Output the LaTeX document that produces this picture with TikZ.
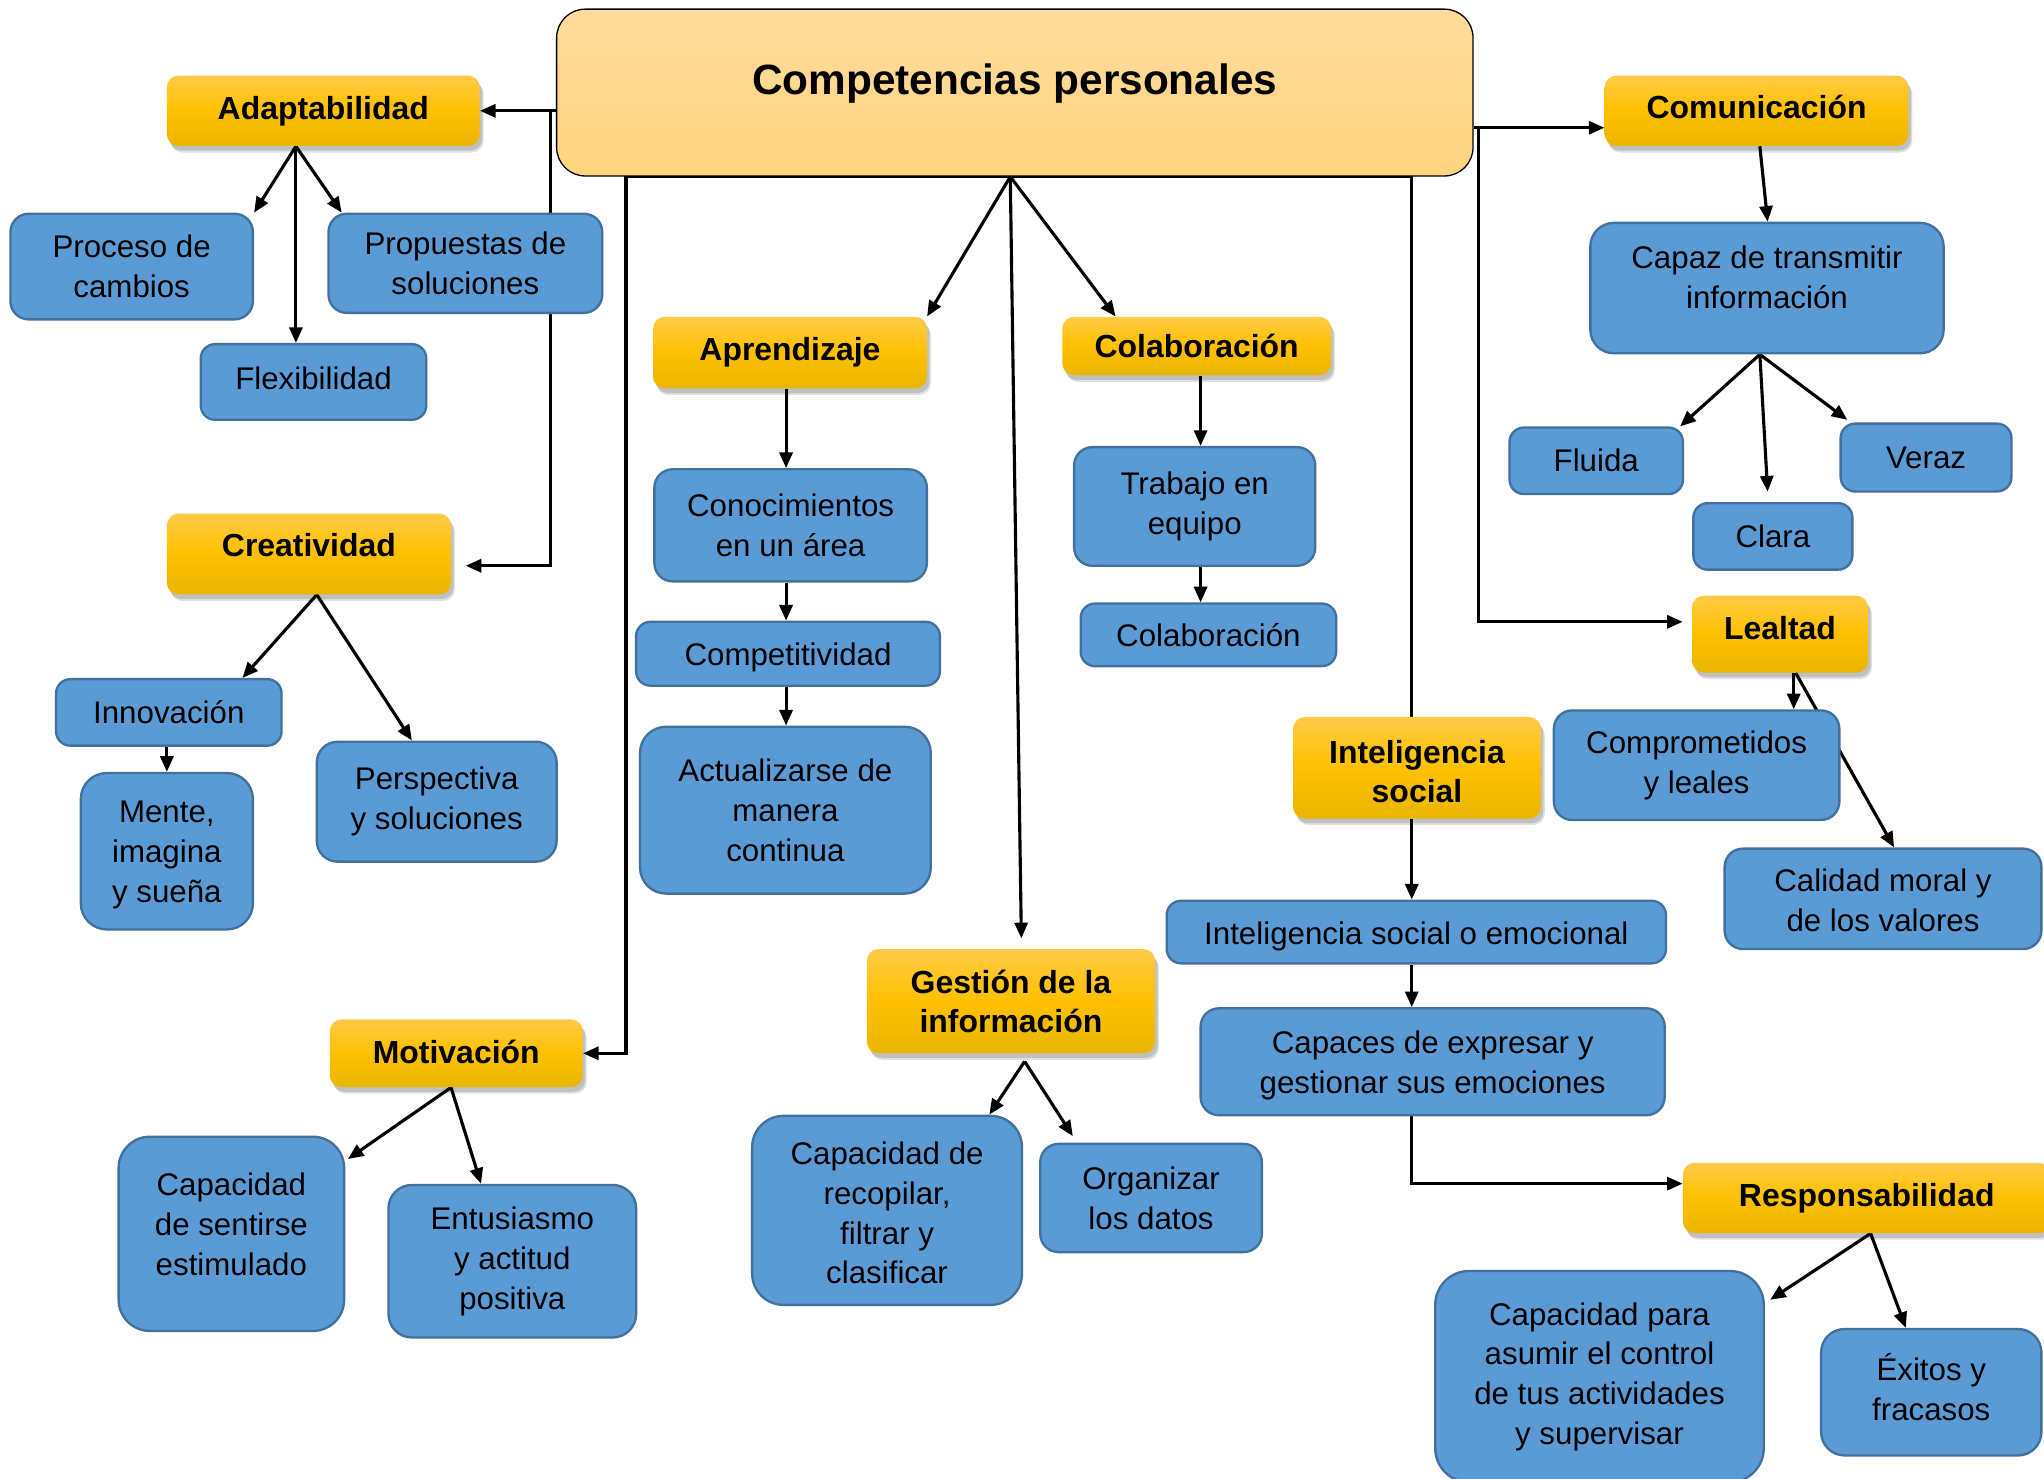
\documentclass[tikz,border=0pt]{standalone}
\usepackage{fontspec}
\setmainfont{Liberation Sans}
\usetikzlibrary{arrows.meta,shadows,calc,backgrounds}
\definecolor{bluefill}{HTML}{5B9BD5}
\definecolor{bluedraw}{HTML}{41719C}
\definecolor{goldtop}{HTML}{FFCB47}
\definecolor{goldmid}{HTML}{FFC000}
\definecolor{goldbot}{HTML}{E9B600}
\definecolor{maintop}{HTML}{FFDC9C}
\definecolor{mainbot}{HTML}{FFD47F}
\newcommand{\bodyfnt}{\fontsize{24}{30.5}\selectfont}
\newcommand{\titlefnt}{\bfseries\fontsize{24.5}{30}\selectfont}
\newcommand{\mainfnt}{\bfseries\fontsize{32.5}{38}\selectfont}
\begin{document}
\begin{tikzpicture}[x=1pt,y=-1pt,
  sz/.style 2 args={minimum width=#1pt,minimum height=#2pt},
  bluebox/.style={draw=bluedraw,fill=bluefill,line width=1.8pt,rounded corners=#1,
    align=center,font=\bodyfnt,inner sep=0pt,text=black},
  bluebox/.default=11pt,
  goldbox/.style={top color=goldtop,bottom color=goldbot,middle color=goldmid,
    rounded corners=9pt,
    drop shadow={shadow xshift=3pt,shadow yshift=-5pt,opacity=0.12,fill=black},
    drop shadow={shadow xshift=2pt,shadow yshift=-3.5pt,opacity=0.14,fill=black},
    align=center,font=\titlefnt,inner sep=0pt,text=black},
  mainbox/.style={top color=maintop,bottom color=mainbot,draw=black,line width=1pt,
    rounded corners=22pt,inner sep=0pt},
  lb/.style={font=\bodyfnt,align=center,text=black},
  lg/.style={font=\titlefnt,align=center,text=black},
  arr/.style={line width=2.4pt,-{Triangle[length=12pt,width=10pt]}},
  ln/.style={line width=2.4pt}
]
\useasboundingbox (0,0) rectangle (1568,1134);
\clip (0,0) rectangle (1568,1134);

% main
\node[mainbox,sz={703}{128},
  label={[font=\mainfnt,yshift=7pt]center:Competencias personales}] (main) at (778.5,71) {};

% gold nodes
\node[goldbox,sz={240}{54}] (adap) at (248,85) {\raisebox{2pt}{Adaptabilidad}};
\node[goldbox,sz={218}{62},label={[lg,yshift=7pt]center:Creatividad}] (creat) at (237,425) {};
\node[goldbox,sz={210}{55}] (aprend) at (606,270.5) {\raisebox{1.5pt}{Aprendizaje}};
\node[goldbox,sz={206}{45}] (colab) at (918,265.5) {Colaboración};
\node[goldbox,sz={233}{54},label={[lg,yshift=3pt]center:Comunicación}] (comun) at (1347.5,85) {};
\node[goldbox,sz={135}{59},label={[lg,yshift=5pt]center:Lealtad}] (leal) at (1365.5,486.5) {};
\node[goldbox,sz={190}{78},label={[lg,yshift=-3pt]center:{Inteligencia\\social}}] (intel) at (1087,589) {};
\node[goldbox,sz={221}{80}] (gest) at (775.5,768) {Gestión de la\\información};
\node[goldbox,sz={194}{52}] (motiv) at (350,808) {\raisebox{2pt}{Motivación}};
\node[goldbox,sz={282}{54}] (resp) at (1432,919) {\raisebox{2pt}{Responsabilidad}};

% blue nodes
\node[bluebox=14pt,sz={186}{81}] (proc) at (101,204.5) {Proceso de\\cambios};
\node[bluebox=14pt,sz={210}{76}] (prop) at (357,202) {Propuestas de\\soluciones};
\node[bluebox,sz={173}{58},label={[lb,yshift=3pt]center:Flexibilidad}] (flex) at (240.5,293) {};
\node[bluebox,sz={173}{51}] (innov) at (129.5,546.5) {Innovación};
\node[bluebox=20pt,sz={132}{120},label={[lb,yshift=-3pt]center:{Mente,\\imagina\\y sueña}}] (mente) at (128,653) {};
\node[bluebox=16pt,sz={184}{92}] (persp) at (335,615) {Perspectiva\\y soluciones};
\node[bluebox=14pt,sz={209}{86}] (conoc) at (606.5,403) {Conocimientos\\en un área};
\node[bluebox,sz={233}{49},label={[lb,yshift=-3pt]center:Competitividad}] (compet) at (604.5,501.5) {};
\node[bluebox=20pt,sz={223}{128}] (actual) at (602.5,621.5) {Actualizarse de\\manera\\continua};
\node[bluebox=14pt,sz={185}{91}] (trabajo) at (916.5,388.5) {Trabajo en\\equipo};
\node[bluebox,sz={196}{48}] (colabb) at (927,487) {Colaboración};
\node[bluebox=18pt,sz={271}{100},
  label={[lb,yshift=8pt]center:{Capaz de transmitir\\información}}] (capaz) at (1355.5,221) {};
\node[bluebox,sz={133}{51}] (fluida) at (1224.5,353.5) {Fluida};
\node[bluebox,sz={131}{52}] (veraz) at (1477.5,351) {Veraz};
\node[bluebox,sz={122}{51}] (clara) at (1360,411.5) {Clara};
\node[bluebox=14pt,sz={219}{84}] (compr) at (1301.5,587) {Comprometidos\\y leales};
\node[bluebox=14pt,sz={243}{77},label={[lb,yshift=-1pt]center:{Calidad moral y\\de los valores}}] (calidad) at (1444.5,689.5) {};
\node[bluebox,sz={383}{48},label={[lb,yshift=-3pt]center:Inteligencia social o emocional}] (intelso) at (1086.5,715) {};
\node[bluebox=14pt,sz={356}{82},label={[lb,yshift=-3pt]center:{Capaces de expresar y\\gestionar sus emociones}}] (capaces) at (1099,814.5) {};
\node[bluebox=24pt,sz={207}{145},label={[lb,yshift=-2pt]center:{Capacidad de\\recopilar,\\filtrar y\\clasificar}}] (recop) at (680.5,928.5) {};
\node[bluebox=14pt,sz={170}{83}] (organ) at (883,919) {Organizar\\los datos};
\node[bluebox=24pt,sz={173}{149},
  label={[lb,yshift=7.5pt]center:{Capacidad\\de sentirse\\estimulado}}] (sentirse) at (177.5,946.5) {};
\node[bluebox=18pt,sz={190}{117}] (entus) at (393,967.5) {Entusiasmo\\y actitud\\positiva};
\node[bluebox=26pt,sz={252}{162}] (asumir) at (1227,1056) {Capacidad para\\asumir el control\\de tus actividades\\y supervisar};
\node[bluebox=18pt,sz={169}{97},label={[lb,yshift=4pt]center:{Éxitos y\\fracasos}}] (exitos) at (1481.5,1068) {};

% helper coordinates
\coordinate (mc) at ([xshift=-3.5pt]main.south);
\coordinate (ix) at ([xshift=-4pt]intel.south);
\coordinate (ax) at ([xshift=-3pt]aprend.south);
\coordinate (cx) at ([xshift=3pt]colab.south);

\begin{scope}[on background layer]
% main connectors
\draw[arr] (main.west |- adap.east) -- (adap.east);
\draw[arr] ([xshift=-4pt]main.west |- adap.east) |- ([xshift=11pt,yshift=-9pt]creat.east);
\draw[arr] (mc) -| ([xshift=33pt]motiv.east) -- (motiv.east);
\draw[arr] (mc) -- (aprend.north east);
\draw[arr] (mc) -- ([xshift=41pt]colab.north west);
\draw[arr] (mc) -- ([xshift=8pt,yshift=8pt]gest.north);
\draw[ln] (mc) -| ([xshift=-4pt]intel.north);
\draw[arr] ([yshift=-27pt]main.east) -- ([yshift=-27pt]main.east -| comun.west);
\draw[arr] ([xshift=4pt,yshift=-27pt]main.east) |- ([xshift=-7pt,yshift=9.5pt]leal.west);

% adaptabilidad
\draw[arr] ([xshift=-21pt]adap.south) -- (proc.north east);
\draw[arr] ([xshift=-21pt]adap.south) -- ([xshift=-13.5pt]flex.north);
\draw[arr] ([xshift=-21pt]adap.south) -- ([xshift=11pt]prop.north west);

% creatividad
\draw[arr] ([xshift=6pt]creat.south) -- ([xshift=56.5pt]innov.north);
\draw[arr] ([xshift=6pt]creat.south) -- ([xshift=-19pt]persp.north);
\draw[arr] ([xshift=-1.5pt]innov.south) -- ([xshift=-1.5pt]innov.south |- mente.north);

% aprendizaje
\draw[arr] (ax) -- (ax |- conoc.north);
\draw[arr] (conoc.south -| ax) -- (compet.north -| ax);
\draw[arr] (compet.south -| ax) -- (actual.north -| ax);

% colaboracion
\draw[arr] (cx) -- (cx |- trabajo.north);
\draw[arr] (trabajo.south -| cx) -- (colabb.north -| cx);

% comunicacion
\draw[arr] ([xshift=2.5pt]comun.south) -- ([xshift=0.5pt]capaz.north);
\draw[arr] ([xshift=-5.5pt]capaz.south) -- ([xshift=-3pt]fluida.north east);
\draw[arr] ([xshift=-5.5pt]capaz.south) -- ([xshift=-4pt,yshift=8pt]clara.north);
\draw[arr] ([xshift=-5.5pt]capaz.south) -- ([xshift=6pt,yshift=2pt]veraz.north west);

% lealtad
\draw[arr] ([xshift=10.5pt]leal.south) -- ([xshift=10.5pt]leal.south |- compr.north);
\draw[arr] ([xshift=12pt]leal.south) -- ([xshift=8.5pt]calidad.north);

% inteligencia social
\draw[arr] (ix) -- (ix |- intelso.north);
\draw[arr] (intelso.south -| ix) -- (capaces.north -| ix);
\draw[arr] (capaces.south -| ix) |- ([yshift=11pt]resp.west);

% gestion
\draw[arr] ([xshift=10.5pt,yshift=-6pt]gest.south) -- ([xshift=-26pt]recop.north east);
\draw[arr] ([xshift=10.5pt,yshift=-6pt]gest.south) -- ([xshift=-60pt,yshift=5pt]organ.north);

% motivacion
\draw[arr] ([xshift=-4pt]motiv.south) -- ([xshift=2pt,yshift=-18pt]sentirse.north east);
\draw[arr] ([xshift=-4pt]motiv.south) -- ([xshift=-24pt]entus.north);

% responsabilidad
\draw[arr] ([xshift=3pt]resp.south) -- ([xshift=4pt,yshift=-23pt]asumir.north east);
\draw[arr] ([xshift=3pt]resp.south) -- ([xshift=-19.5pt]exitos.north);
\end{scope}
\end{tikzpicture}
\end{document}
